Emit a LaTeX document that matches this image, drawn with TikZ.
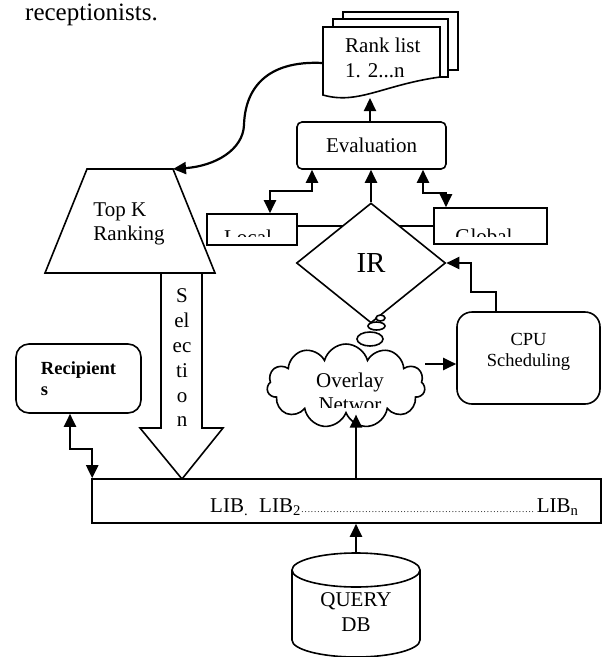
\documentclass[tikz,border=0pt]{standalone}
\usepackage{fontspec}
\setmainfont{Liberation Serif}
\usetikzlibrary{shapes,arrows.meta,calc}

\begin{document}
\begin{tikzpicture}[
    x=1pt, y=-1pt,
    font=\fontsize{21}{24.5}\selectfont,
    box/.style={draw, line width=1.6pt, fill=white, inner sep=0pt},
    block/.style={box, rounded corners=13pt, align=center},
    rule/.style={draw, line width=1.6pt},
    small/.style={font=\fontsize{18.5}{21.5}\selectfont},
    line/.style={draw, -{Triangle[length=13pt,width=12pt]}, line width=2.2pt},
    dline/.style={line, {Triangle[length=13pt,width=12pt]}-{Triangle[length=13pt,width=12pt]}}
]
    \useasboundingbox (0,0) rectangle (606,657);
    \node[anchor=base west, inner sep=0pt, font=\fontsize{25}{30}\selectfont] (intro) at (25,20) {receptionists.};

    % rank list pages
    \draw[box] (343,12) rectangle (458,70);
    \draw[box] (333,19) rectangle (448,77);
    \draw[box] (323,27) -- (440,27) -- (440,77) .. controls (383,85) and (358,105) .. (323,95) -- cycle;
    \node[align=left, anchor=west, inner sep=0pt] (rank) at (345,58) {Rank list\\1. 2...n};
    \coordinate (rankin) at (323,63);
    \coordinate (rankout) at (370,98);

    \node[block, rounded corners=5pt, minimum width=149pt, minimum height=47pt] (eval) at (371.5,145.5) {Evaluation};

    % selection
    \draw[box] (161,273) -- (161,428) -- (140,428) -- (182,479) -- (223,428) -- (202,428) -- (202,273);
    \node[align=center, inner sep=0pt, font=\fontsize{21}{24.8}\selectfont] (sel) at (182,358) {S\\el\\ec\\ti\\o\\n};

    % top k
    \draw[box] (87,169) -- (173,169) -- (215,273) -- (45,273) -- cycle;
    \coordinate (topkin) at (173,169);
    \node[align=left, inner sep=0pt] (topk) at (129,224) {Top K\\Ranking};

    % local / global
    \node[box, minimum width=90pt, minimum height=31pt] (local) at (252,229.5) {};
    \node[box, minimum width=113pt, minimum height=36pt] (global) at (490.5,226) {};
    \begin{scope}
        \clip (210,216) rectangle (545,236);
        \node[anchor=base] (localtxt) at (248,244) {Local};
        \node[anchor=base] (globaltxt) at (484,243) {Global};
    \end{scope}
    \draw[rule] (local.east |- global.west) -- (global.west);

    \node[diamond, box, minimum width=149pt, minimum height=120pt, font=\fontsize{29}{33}\selectfont] (ir) at (371,263) {IR};

    % cloud callout
    \draw[box] (380.5,318) ellipse (4.5pt and 3pt);
    \draw[box] (376.5,326) ellipse (8.5pt and 4pt);
    \draw[box] (370,339) ellipse (13pt and 7pt);
    \node[cloud, box, cloud puffs=11, minimum width=158pt, minimum height=84pt] (cloud) at (346,386) {};
    \begin{scope}
        \clip (280,350) rectangle (420,407);
        \node[align=center] (overlay) at (350,392.5) {Overlay\\Networ};
    \end{scope}

    \node[block, small, minimum width=143pt, minimum height=92pt, rounded corners=15pt, text depth=16pt] (cpu) at (528.5,358) {CPU\\Scheduling};
    \node[block, align=left, minimum width=125pt, minimum height=69pt, font=\fontsize{18.5}{20.5}\selectfont\bfseries] (recip) at (78.5,378.5) {Recipient\\s};

    % libraries
    \node[box, minimum width=509pt, minimum height=44pt] (lib) at (346.5,501) {};
    \node[anchor=base west, inner sep=0pt] (libs) at (210,512) {LIB\textsubscript{.}\hspace{11pt}LIB\textsubscript{2}\makebox[236pt]{\leaders\hbox to 3.2pt{\hss{\fontsize{9}{9}\selectfont .}\hss}\hfill}LIB\textsubscript{n}};

    % query db
    \draw[box] (292,570) -- (292,640) arc[start angle=180, end angle=360, x radius=64pt, y radius=17pt] -- (420,570);
    \draw[box] (356,570) ellipse (64pt and 17pt);
    \coordinate (dbtop) at (356,553);
    \node[align=center, inner sep=0pt] (query) at (356,612) {QUERY\\DB};

    % connectors
    \draw[line] (eval.north -| rankout) -- (rankout);
    \draw[line] (rankin) .. controls (265,60) and (245,90) .. (244,125) .. controls (243,150) and (215,166) .. (topkin);
    \draw[dline] ([xshift=-59.5pt]eval.south) -- ++(0,21) -| ([xshift=18pt]local.north);
    \draw[line] (ir.north) -- (ir.north |- eval.south);
    \draw[dline] ([xshift=51.5pt]eval.south) -- ++(0,23) -| ([xshift=-44.5pt]global.north);
    \draw[line] ([xshift=-32.5pt]cpu.north) -- ++(0,-19) -- ++(-25,0) |- (ir.east);
    \coordinate (cpuin) at ([yshift=-6pt]cpu.west);
    \draw[line] (cloud.east |- cpuin) -- (cpuin);
    \draw[line] (query.north |- lib.north) -- (query.north |- cloud.south);
    \draw[line] (dbtop) -- (dbtop |- lib.south);
    \draw[dline] ([xshift=-8.5pt]recip.south) -- ++(0,35) -| ([xshift=1pt]lib.north west);
\end{tikzpicture}
\end{document}
